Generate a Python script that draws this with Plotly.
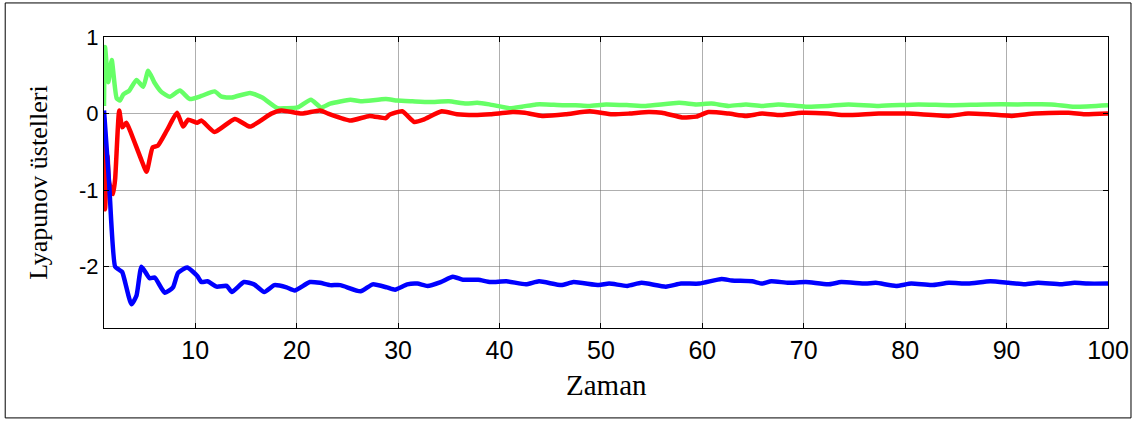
import plotly.graph_objects as go

# ---- data ----
green_t = [1.0, 1.1, 1.43, 1.76, 2.25, 2.57, 2.9, 3.5, 4.2, 4.87, 5.36, 6.0, 6.68, 7.5, 8.48, 9.46,
           10.6, 11.9, 12.6, 13.6, 15.4, 16.6, 18.1, 18.9, 20.1, 21.4, 22.4, 23.3, 25.3, 26.3, 28.8,
           29.9, 31.4, 33.1, 35.0, 36.7, 37.8, 39.0, 41.0, 42.2, 43.6, 44.6, 46.2, 47.5, 48.8, 50.5,
           52.8, 54.4, 57.7, 59.4, 60.9, 62.6, 64.3, 65.9, 67.5, 70.2, 72.4, 74.4, 77.4, 81.3, 84.5,
           87.9, 91.1, 94.4, 96.7, 100.0]
green_v = [0.10, 0.87, 0.41, 0.70, 0.20, 0.17, 0.25, 0.30, 0.44, 0.35, 0.56, 0.40, 0.28, 0.22, 0.30, 0.19,
           0.23, 0.29, 0.22, 0.21, 0.27, 0.21, 0.07, 0.07, 0.08, 0.18, 0.08, 0.13, 0.18, 0.16, 0.19,
           0.17, 0.16, 0.15, 0.16, 0.13, 0.14, 0.12, 0.07, 0.09, 0.12, 0.12, 0.11, 0.11, 0.10, 0.12,
           0.11, 0.10, 0.14, 0.12, 0.13, 0.10, 0.12, 0.10, 0.12, 0.09, 0.10, 0.12, 0.10, 0.12, 0.11,
           0.12, 0.12, 0.12, 0.09, 0.11]

red_t = [1.0, 1.1, 1.35, 1.5, 1.9, 2.1, 2.5, 2.8, 3.2, 3.5, 4.7, 5.2, 5.8, 6.3, 7.2, 8.2, 8.8, 9.3,
         10.2, 10.6, 11.9, 13.9, 15.4, 17.5, 18.5, 20.5, 22.3, 23.1, 25.3, 27.2, 28.8, 29.1, 30.4,
         31.6, 32.5, 34.3, 35.8, 37.5, 39.1, 41.3, 42.5, 44.2, 46.5, 48.9, 51.1, 52.8, 54.7, 56.0,
         58.0, 59.4, 60.6, 62.6, 64.3, 65.9, 67.5, 69.8, 72.4, 74.1, 77.4, 80.3, 84.3, 86.2, 88.2,
         90.5, 92.8, 96.1, 97.7, 100.0]
red_v = [-0.05, -1.25, -0.55, -0.90, -1.05, -0.85, 0.04, -0.18, -0.12, -0.20, -0.61, -0.76, -0.44, -0.42,
         -0.22, 0.01, -0.17, -0.08, -0.12, -0.09, -0.24, -0.07, -0.17, 0.00, 0.04, 0.00, 0.04, 0.00,
         -0.09, -0.03, -0.06, -0.02, 0.03, -0.11, -0.08, 0.03, -0.01, -0.02, -0.01, 0.02, 0.01, -0.03,
         -0.01, 0.03, -0.01, 0.00, 0.02, 0.01, -0.05, -0.04, 0.02, 0.00, -0.03, 0.00, -0.02, 0.01,
         0.00, -0.02, 0.00, 0.00, -0.03, 0.00, -0.01, -0.03, 0.00, 0.01, -0.01, 0.00]

blue_t = [1.0, 1.5, 2.1, 2.5, 2.8, 3.7, 4.2, 4.7, 5.5, 6.0, 7.0, 7.8, 8.3, 9.2, 10.2, 10.6, 11.2,
          12.1, 13.1, 13.6, 14.8, 15.8, 16.8, 17.8, 19.0, 19.8, 21.3, 22.3, 23.3, 24.3, 26.3, 27.5,
          28.9, 29.7, 30.9, 31.9, 32.9, 34.2, 35.4, 36.4, 37.9, 39.1, 40.7, 42.6, 43.9, 46.1, 47.3,
          49.8, 50.8, 52.6, 54.0, 56.4, 57.9, 59.7, 61.9, 62.9, 64.9, 65.9, 66.8, 68.5, 70.2, 72.4,
          73.7, 76.1, 77.1, 79.1, 80.6, 82.6, 84.3, 86.2, 88.4, 90.2, 91.8, 93.1, 95.4, 96.7, 98.0,
          100.0]
blue_v = [0.04, -0.90, -2.00, -2.04, -2.07, -2.49, -2.38, -2.00, -2.15, -2.14, -2.34, -2.27, -2.08,
          -2.01, -2.12, -2.20, -2.19, -2.26, -2.25, -2.33, -2.20, -2.23, -2.33, -2.24, -2.27, -2.31,
          -2.20, -2.21, -2.24, -2.24, -2.32, -2.23, -2.27, -2.30, -2.23, -2.22, -2.25, -2.20, -2.13,
          -2.17, -2.17, -2.20, -2.19, -2.23, -2.19, -2.24, -2.20, -2.24, -2.22, -2.25, -2.21, -2.26,
          -2.22, -2.22, -2.16, -2.18, -2.19, -2.22, -2.19, -2.21, -2.20, -2.23, -2.20, -2.22, -2.21,
          -2.25, -2.22, -2.24, -2.21, -2.22, -2.19, -2.21, -2.23, -2.21, -2.23, -2.21, -2.22, -2.22]

x_ticks = [10, 20, 30, 40, 50, 60, 70, 80, 90, 100]
y_ticks = [-2, -1, 0, 1]

fig = go.Figure()
for t, v, c in [(green_t, green_v, "#66FF66"), (red_t, red_v, "#FF0000"), (blue_t, blue_v, "#0000FF")]:
    fig.add_trace(go.Scatter(x=t, y=v, mode="lines",
                             line=dict(color=c, width=4.5, shape="spline", smoothing=0.5),
                             showlegend=False))

axis_common = dict(
    showline=True, linecolor="black", linewidth=1, mirror="allticks",
    ticks="inside", ticklen=5, tickcolor="black",
    showgrid=True, gridcolor="rgba(110,110,110,0.55)", gridwidth=1,
    zeroline=False,
)

fig.update_layout(
    width=1141, height=421,
    margin=dict(l=104, r=31, t=37, b=93),
    paper_bgcolor="white", plot_bgcolor="white",
    xaxis=dict(range=[1, 100], tickvals=x_ticks, ticktext=[str(v) for v in x_ticks],
               tickfont=dict(family="Liberation Sans, Arial", size=25, color="black"), **axis_common),
    yaxis=dict(range=[-2.8, 1], tickvals=y_ticks, ticktext=[str(v) for v in y_ticks],
               tickfont=dict(family="Liberation Sans, Arial", size=22, color="black"), **axis_common),
    annotations=[
        dict(text="Zaman", xref="paper", yref="paper", x=0.5, y=-0.196, xanchor="center", yanchor="middle",
             showarrow=False, font=dict(family="Liberation Serif, Times New Roman", size=29, color="black")),
        dict(text="Lyapunov üstelleri", xref="paper", yref="paper", x=-0.0656, y=0.5, textangle=-90,
             xanchor="center", yanchor="middle", showarrow=False,
             font=dict(family="Liberation Serif, Times New Roman", size=26, color="black")),
    ],
    shapes=[
        dict(type="rect", xref="paper", yref="paper", x0=-0.0984, x1=1.0229, y0=-0.309, y1=1.117,
             line=dict(color="black", width=1)),
    ],
)

fig.write_html("out.html")
